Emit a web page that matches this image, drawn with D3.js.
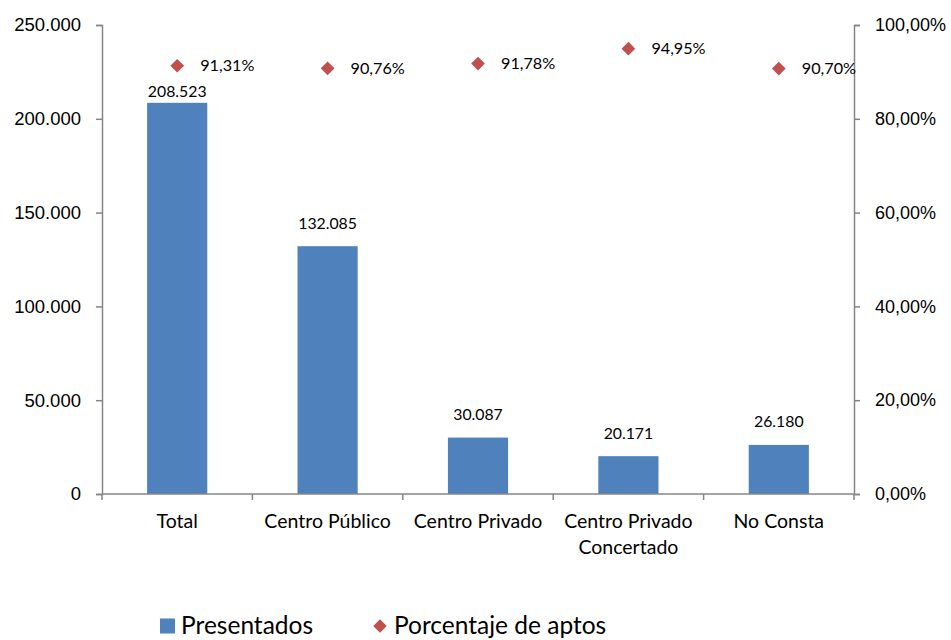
<!DOCTYPE html>
<html lang="es">
<head>
<meta charset="utf-8">
<title>Presentados y porcentaje de aptos</title>
<script src="https://d3js.org/d3.v7.min.js"></script>
<style>
  body { margin: 0; background: #fff; }
  svg { font-family: Lato, "Open Sans", sans-serif; }
  .axis text { fill: #000; }
  .axis line, .axis path { stroke: #868686; stroke-width: 1.5; }
</style>
</head>
<body>
<div id="chart"></div>
<script>
const categories = ["Total", "Centro Público", "Centro Privado", "Centro Privado|Concertado", "No Consta"];
const presentados = [208523, 132085, 30087, 20171, 26180];
const aptos = [91.31, 90.76, 91.78, 94.95, 90.70];
const leftTicks = [0, 50000, 100000, 150000, 200000, 250000];
const rightTicks = [0, 20, 40, 60, 80, 100];

const width = 951, height = 640;
const margin = {top: 25, right: 97, bottom: 146, left: 102};

const blue = "#4F81BD", red = "#C0504D";
const thousands = d => d === 0 ? "0" : d3.format(",")(d).replace(/,/g, ".");
const pctFmt = d => d.toFixed(2).replace(".", ",") + "%";

const svg = d3.select("#chart").append("svg")
    .attr("width", width)
    .attr("height", height);

const x = d3.scaleBand()
    .domain(categories)
    .range([margin.left, width - margin.right])
    .paddingInner(0.6)
    .paddingOuter(0.3);

const xAxisScale = d3.scaleBand()
    .domain(categories)
    .range([margin.left, width - margin.right]);

const y = d3.scaleLinear()
    .domain([0, 250000])
    .range([height - margin.bottom, margin.top]);

const y2 = d3.scaleLinear()
    .domain([0, 100])
    .range([height - margin.bottom, margin.top]);

// bars
svg.append("g")
  .selectAll("rect")
  .data(presentados)
  .join("rect")
    .attr("x", (d, i) => x(categories[i]))
    .attr("y", d => y(d))
    .attr("width", x.bandwidth())
    .attr("height", d => y(0) - y(d))
    .attr("fill", blue);

// left axis
svg.append("g")
    .attr("class", "axis")
    .attr("transform", `translate(${margin.left},0)`)
    .call(d3.axisLeft(y).tickValues(leftTicks).tickFormat(thousands).tickSize(6).tickPadding(15))
    .call(g => g.selectAll("text").style("font-size", "18.5px"));

// right axis
svg.append("g")
    .attr("class", "axis")
    .attr("transform", `translate(${width - margin.right},0)`)
    .call(d3.axisRight(y2).tickValues(rightTicks).tickFormat(pctFmt).tickSize(6).tickPadding(15))
    .call(g => g.selectAll("text").style("font-size", "18px"));

// bottom axis (ticks at band boundaries)
const xg = svg.append("g")
    .attr("class", "axis")
    .attr("transform", `translate(0,${height - margin.bottom})`);
xg.append("path")
    .attr("d", `M${margin.left},0H${width - margin.right}`);
xg.selectAll("line")
  .data(d3.range(categories.length + 1))
  .join("line")
    .attr("x1", i => margin.left + i * xAxisScale.step())
    .attr("x2", i => margin.left + i * xAxisScale.step())
    .attr("y1", 0)
    .attr("y2", 6);
xg.selectAll("text")
  .data(categories)
  .join("text")
    .attr("x", d => xAxisScale(d) + xAxisScale.bandwidth() / 2)
    .attr("y", 34)
    .attr("text-anchor", "middle")
    .style("font-size", "19.5px")
  .selectAll("tspan")
  .data(d => d.split("|"))
  .join("tspan")
    .attr("x", function() { return this.parentNode.getAttribute("x"); })
    .attr("dy", (d, i) => i === 0 ? 0 : 26)
    .text(d => d);

// bar value labels
svg.append("g")
  .selectAll("text")
  .data(presentados)
  .join("text")
    .attr("x", (d, i) => x(categories[i]) + x.bandwidth() / 2)
    .attr("y", (d, i) => Math.max(y(d) - 23, y2(aptos[i]) + 26))
    .attr("dy", "0.35em")
    .attr("text-anchor", "middle")
    .style("font-size", "15.8px")
    .text(thousands);

// percentage markers
const cx = i => xAxisScale(categories[i]) + xAxisScale.bandwidth() / 2;
const diamond = d3.symbol().type(d3.symbolDiamond2).size(120);
svg.append("g")
  .selectAll("path")
  .data(aptos)
  .join("path")
    .attr("d", diamond)
    .attr("transform", (d, i) => `translate(${cx(i)},${y2(d)})`)
    .attr("fill", red);

svg.append("g")
  .selectAll("text")
  .data(aptos)
  .join("text")
    .attr("x", (d, i) => cx(i) + 23)
    .attr("y", d => y2(d))
    .attr("dy", "0.35em")
    .style("font-size", "16.2px")
    .text(pctFmt);

// legend
const legend = svg.append("g").attr("transform", "translate(160,625)");
legend.append("rect")
    .attr("x", 0).attr("y", -6.5)
    .attr("width", 15).attr("height", 15)
    .attr("fill", blue);
legend.append("text")
    .attr("x", 21).attr("dy", "0.35em")
    .style("font-size", "24.5px")
    .text("Presentados");
legend.append("path")
    .attr("d", d3.symbol().type(d3.symbolDiamond2).size(115))
    .attr("transform", "translate(220,1)")
    .attr("fill", red);
legend.append("text")
    .attr("x", 234).attr("dy", "0.35em")
    .style("font-size", "24.5px")
    .text("Porcentaje de aptos");
</script>
</body>
</html>
